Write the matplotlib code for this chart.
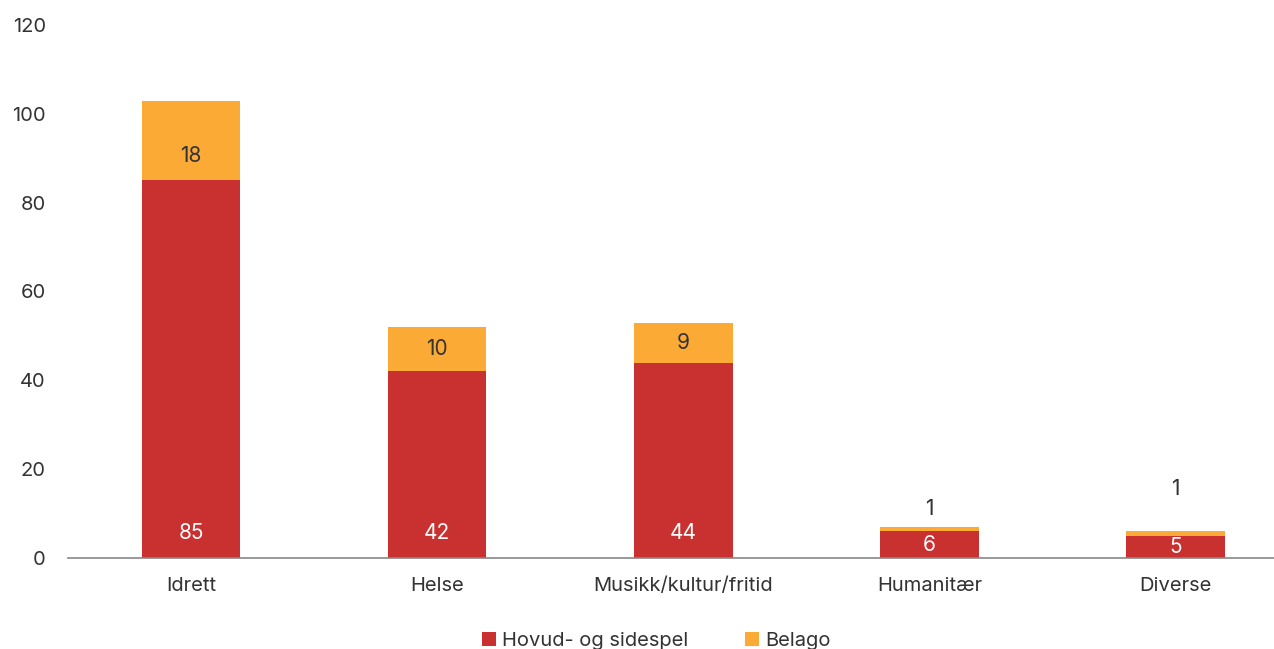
import numpy as np
import matplotlib.pyplot as plt

categories = ['Idrett', 'Helse', 'Musikk/kultur/fritid', 'Humanitær', 'Diverse']
hovud = [85, 42, 44, 6, 5]
belago = [18, 10, 9, 1, 1]

red = '#C93030'
orange = '#FBAA36'
txt = '#333333'

plt.rcParams['font.family'] = ['Inter', 'DejaVu Sans']

fig = plt.figure(figsize=(12.74, 6.49), dpi=100)
ax = fig.add_axes([68 / 1274, 1 - 558 / 649, 1 - 68 / 1274, (558 - 25) / 649])

x = np.arange(len(categories))
w = 0.40
b1 = ax.bar(x, hovud, w, color=red, label='Hovud- og sidespel')
b2 = ax.bar(x, belago, w, bottom=hovud, color=orange, label='Belago')

for i in range(len(x)):
    ax.text(x[i], min(5.6, hovud[i] / 2), str(hovud[i]), ha='center', va='center',
            color='white', fontsize=15)
    top = hovud[i] + belago[i]
    if belago[i] >= 5:
        ax.text(x[i], hovud[i] + min(5.5, belago[i] / 2), str(belago[i]), ha='center', va='center',
                color=txt, fontsize=15)
    else:
        off = 4 if i == 3 else 9.5
        ax.text(x[i], top + off, str(belago[i]), ha='center', va='center', color=txt, fontsize=15)

ax.set_xlim(-0.5, 4.40)
ax.set_ylim(0, 120)
ax.set_yticks(range(0, 121, 20))
ax.set_xticks(x)
ax.set_xticklabels(categories)
ax.tick_params(axis='both', length=0, labelsize=14.5, colors=txt)
ax.tick_params(axis='y', pad=16)
ax.tick_params(axis='x', pad=14)
for s in ['top', 'right', 'left']:
    ax.spines[s].set_visible(False)
ax.spines['bottom'].set_color('#888888')
ax.spines['bottom'].set_linewidth(1.2)

fig.legend(handles=[b1, b2], loc='lower center', bbox_to_anchor=(0.515, -0.03), ncol=2, frameon=False,
           fontsize=14.5, handlelength=0.7, handleheight=0.7, handletextpad=0.3, columnspacing=2.8,
           labelcolor=txt)

fig.savefig('out.png', dpi=100)
